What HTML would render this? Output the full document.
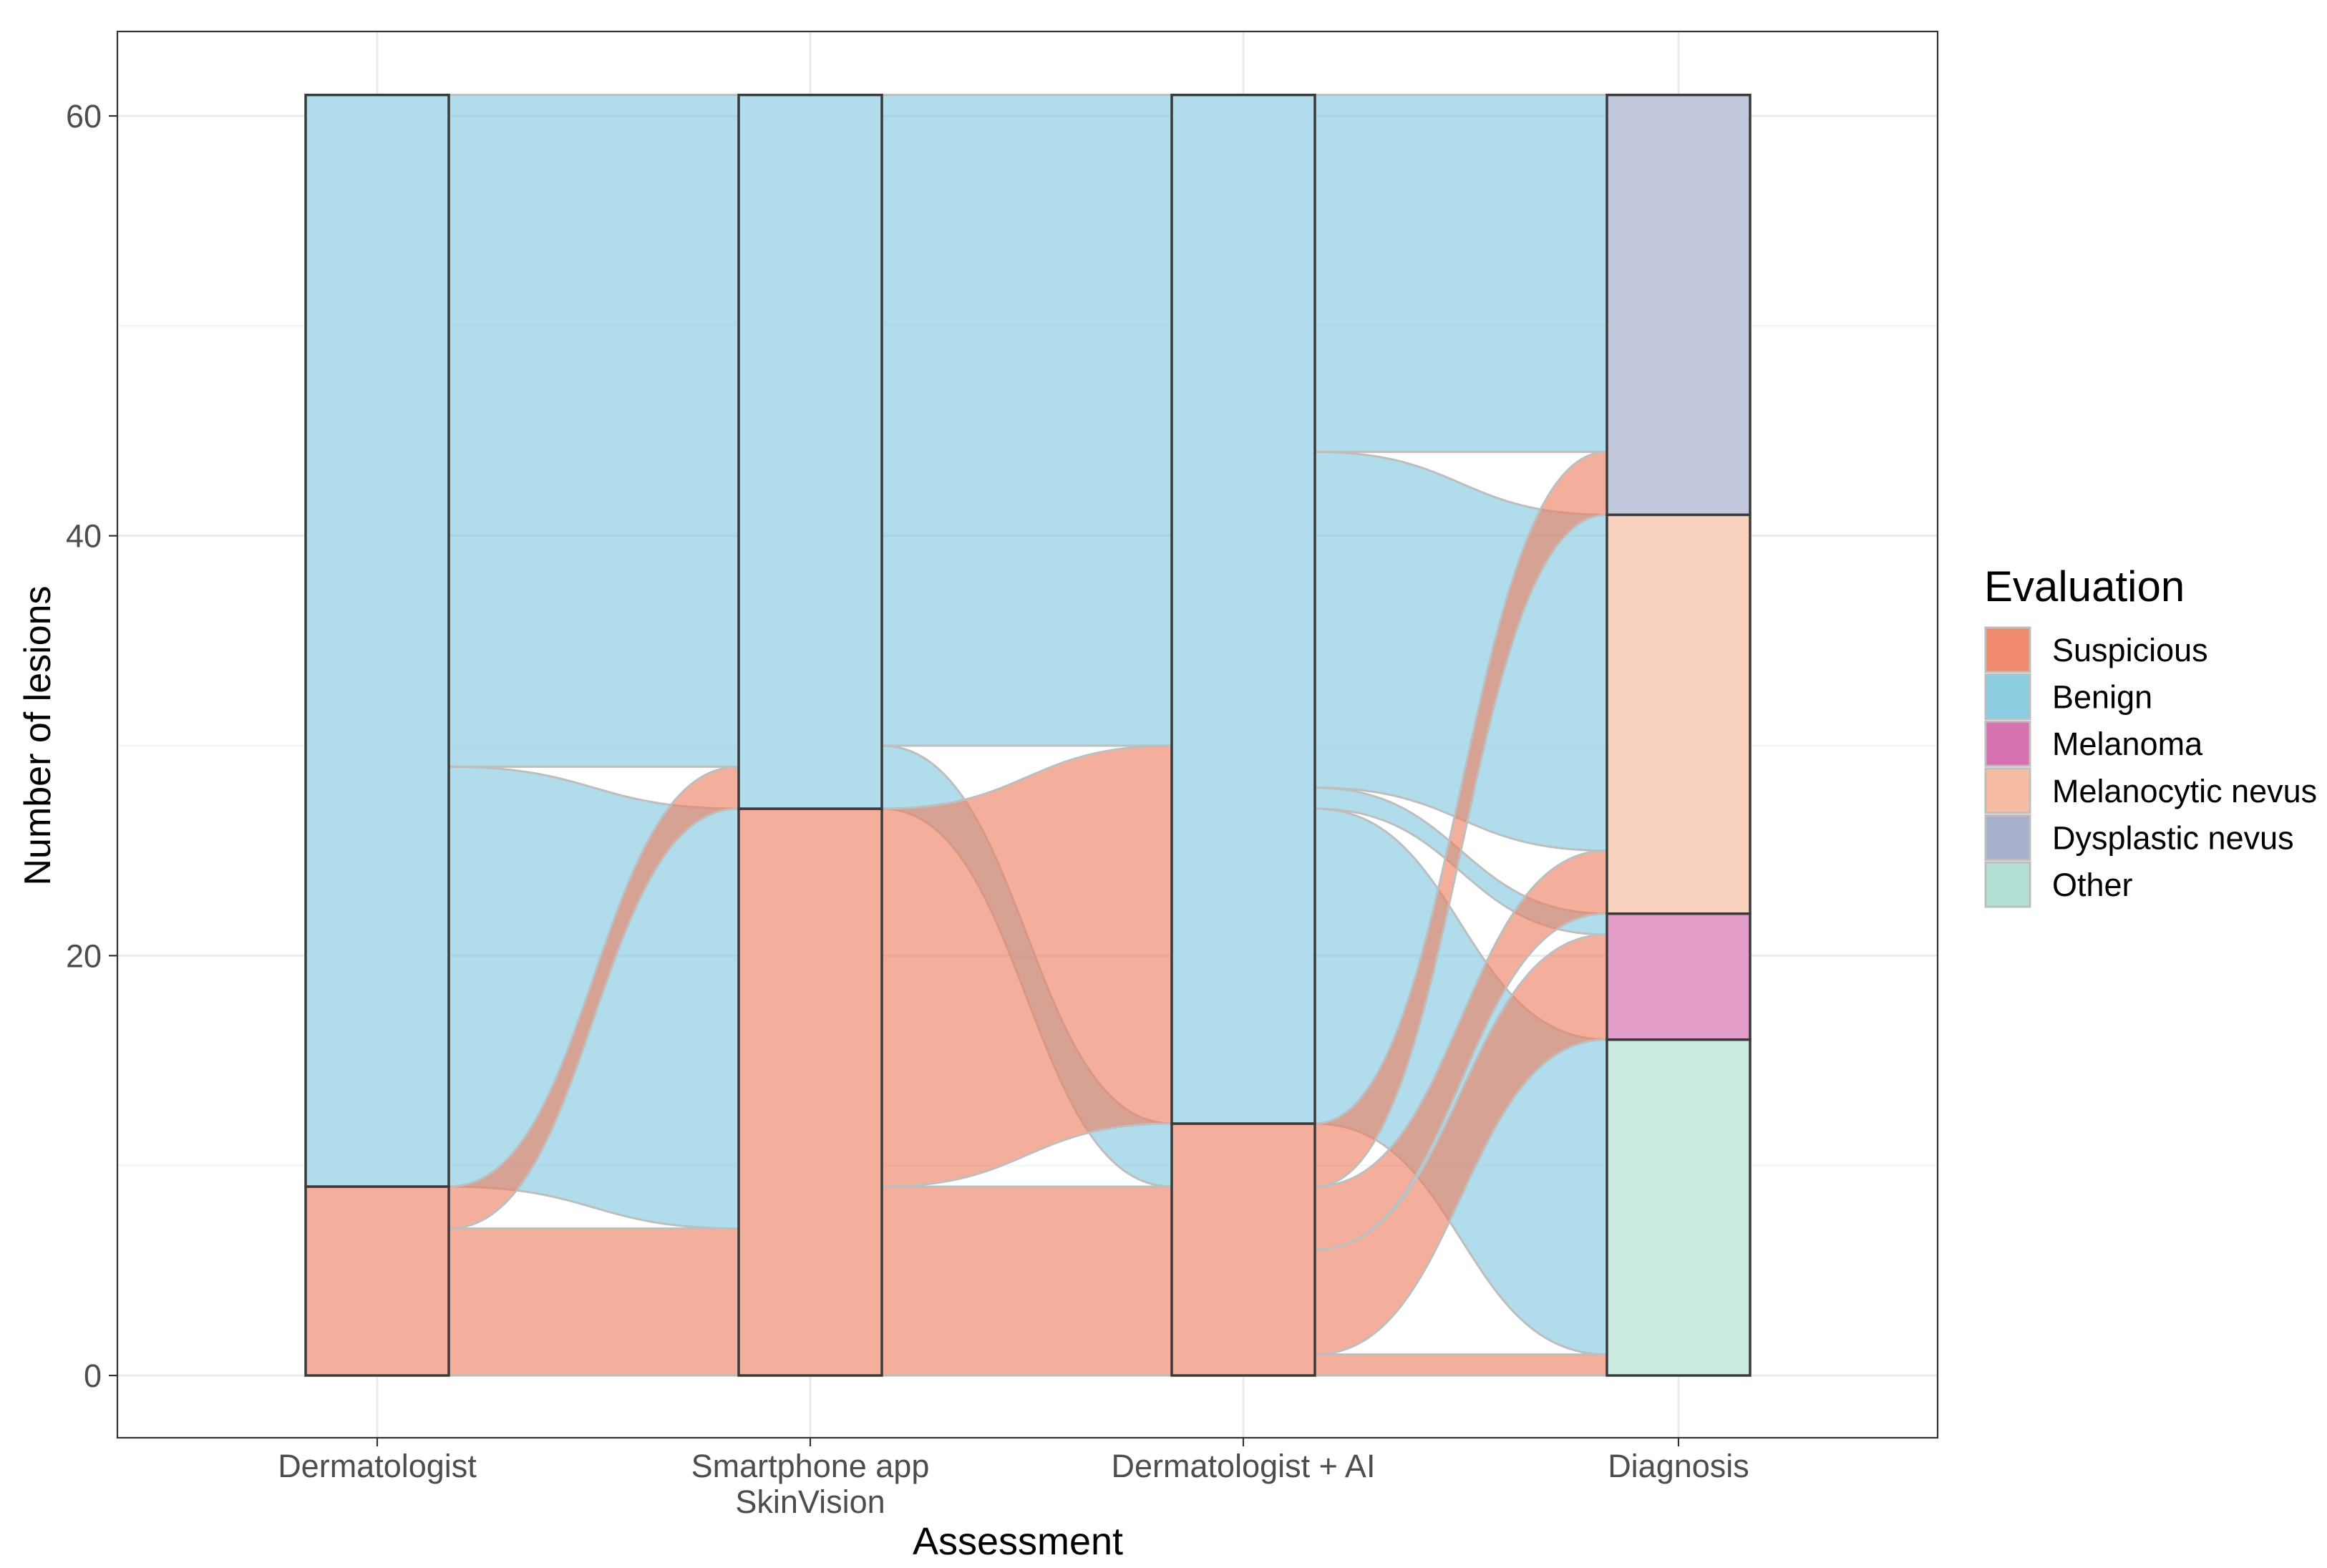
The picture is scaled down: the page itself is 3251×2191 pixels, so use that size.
<!DOCTYPE html>
<html><head><meta charset="utf-8"><style>
body{margin:0;background:#fff;}
svg{display:block;font-family:"Liberation Sans",Arial,sans-serif;}
</style></head><body>
<svg id="chart" width="3251" height="2191" viewBox="0 0 3251 2191" xmlns="http://www.w3.org/2000/svg">
<rect x="0" y="0" width="3251" height="2191" fill="#fff"/>
<g id="grid"></g>
<g id="flows"></g>
<g id="strata"></g>
<rect x="164" y="44" width="2543" height="1965" fill="none" stroke="#333" stroke-width="2.2"/>
<g id="axes"></g>
<text x="1422" y="2172" font-size="54" text-anchor="middle" fill="#000">Assessment</text>
<text transform="translate(70,1028) rotate(-90)" font-size="52" text-anchor="middle" fill="#000">Number of lesions</text>
<g id="legend">
<text x="2772" y="840" font-size="60" fill="#000">Evaluation</text>
</g>
</svg>
<script>
const axisLabels = [["Dermatologist"],["Smartphone app","SkinVision"],["Dermatologist + AI"],["Diagnosis"]];
const yTicks = [0,20,40,60];
const yMinor = [10,30,50];
const categories = ["Suspicious","Benign","Melanoma","Melanocytic nevus","Dysplastic nevus","Other"];
const baseColors = ["#EE7E5F","#80C7DE","#D063A6","#F6B597","#9DA7C6","#A9DCCF"];
const strataAxis0 = [[0,9],[1,52]];
const strataAxis1 = [[0,27],[1,34]];
const strataAxis2 = [[0,12],[1,49]];
const strataAxis3 = [[5,16],[2,6],[3,19],[4,20]];
const flows01 = [[0,0,7,0,7,0],[0,7,9,27,29,0],[0,9,29,7,27,1],[0,29,61,29,61,1]];
const flows12 = [[1,0,9,0,9,0],[1,9,27,12,30,0],[1,27,30,9,12,1],[1,30,61,30,61,1]];
const flows23 = [[2,0,1,0,1,0],[2,1,6,16,21,0],[2,6,9,22,25,0],[2,9,12,41,44,0],[2,12,27,1,16,1],[2,27,28,21,22,1],[2,28,44,25,41,1],[2,44,61,44,61,1]];

const NS="http://www.w3.org/2000/svg";
const X0=164,X1=2707,Y0=44,Y1=2009;
const axX=[527,1132,1737,2345], HW=100;
function y(v){return 1922 - v*(1922-162)/60;}
function mk(tag,attrs,parent){const e=document.createElementNS(NS,tag);for(const k in attrs)e.setAttribute(k,attrs[k]);parent.appendChild(e);return e;}
const grid=document.getElementById('grid');
mk('rect',{x:X0,y:Y0,width:X1-X0,height:Y1-Y0,fill:'#fff'},grid);
yMinor.forEach(v=>{const l=mk('line',{x1:X0,x2:X1,y1:y(v),y2:y(v),stroke:'#F3F3F3','stroke-width':2},grid);

});
yTicks.forEach(v=>{const l=mk('line',{x1:X0,x2:X1,y1:y(v),y2:y(v),stroke:'#EBEBEB','stroke-width':3},grid);

});
axX.forEach(x=>{const l=mk('line',{x1:x,x2:x,y1:Y0,y2:Y1,stroke:'#EBEBEB','stroke-width':3},grid);

});

const fl=document.getElementById('flows');
const allFlows=[...flows01,...flows12,...flows23];
[1,0].forEach(cat=>allFlows.filter(f=>f[5]===cat).forEach(f=>{
  const xa=axX[f[0]]+HW, xb=axX[f[0]+1]-HW, xm=(xa+xb)/2;
  const a0=y(f[1]),a1=y(f[2]),b0=y(f[3]),b1=y(f[4]);
  const d=`M${xa},${a1} C${xm},${a1} ${xm},${b1} ${xb},${b1} L${xb},${b0} C${xm},${b0} ${xm},${a0} ${xa},${a0} Z`;
  const p=mk('path',{d:d,fill:baseColors[f[5]],'fill-opacity':0.62,stroke:'#BEBEBE','stroke-width':3},fl);
  
  
}));

const st=document.getElementById('strata');
[strataAxis0,strataAxis1,strataAxis2,strataAxis3].forEach((arr,i)=>{
  let cum=0;
  arr.forEach(s=>{
    const top=y(cum+s[1]),bot=y(cum);
    mk('rect',{x:axX[i]-HW,y:top,width:2*HW,height:bot-top,fill:'#fff'},st);
    const r=mk('rect',{x:axX[i]-HW,y:top,width:2*HW,height:bot-top,fill:baseColors[s[0]],'fill-opacity':0.62,stroke:'#3a3a3a','stroke-width':3.5},st);
    
    
    cum+=s[1];
  });
});

const ax=document.getElementById('axes');
yTicks.forEach(v=>{
  mk('line',{x1:152,x2:164,y1:y(v),y2:y(v),stroke:'#333','stroke-width':2.2},ax);
  const t=mk('text',{x:142,y:y(v)+16,'font-size':45,'text-anchor':'end',fill:'#4D4D4D'},ax);
  t.textContent=v;
  
  
});
axisLabels.forEach((lab,i)=>{
  mk('line',{x1:axX[i],x2:axX[i],y1:Y1,y2:Y1+12,stroke:'#333','stroke-width':2.2},ax);
  lab.forEach((s,j)=>{
    const t=mk('text',{x:axX[i],y:2064+j*50,'font-size':45,'text-anchor':'middle',fill:'#4D4D4D'},ax);
    t.textContent=s;
    
    
  });
});

const lg=document.getElementById('legend');
categories.forEach((c,i)=>{
  const cy=908+i*65.6;
  const r=mk('rect',{x:2774,y:cy-31,width:62,height:62,fill:baseColors[i],'fill-opacity':0.9,stroke:'#BEBEBE','stroke-width':3},lg);
  
  
  const t=mk('text',{x:2867,y:cy+16,'font-size':45,fill:'#000'},lg);
  t.textContent=c;
  
  
});
</script>
</body></html>
